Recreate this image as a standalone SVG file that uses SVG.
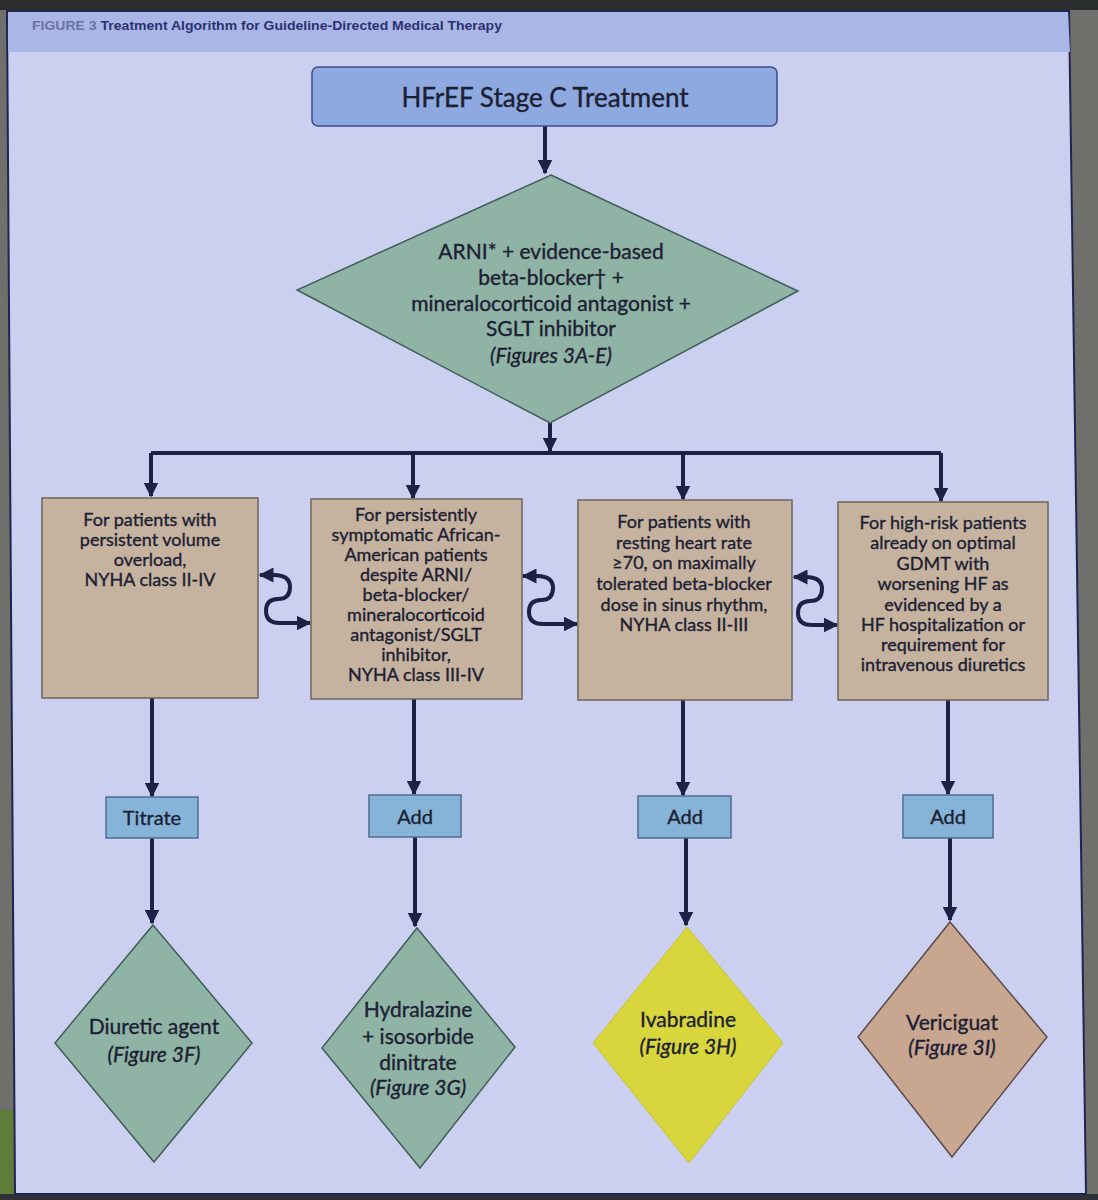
<svg xmlns="http://www.w3.org/2000/svg" width="1098" height="1200" viewBox="0 0 1098 1200">
<defs>
<marker id="ah" viewBox="0 0 10 10" refX="9" refY="5" markerWidth="15" markerHeight="15" markerUnits="userSpaceOnUse" orient="auto-start-reverse">
<path d="M0,0 L10,5 L0,10 z" fill="#1d2148"/>
</marker>
<style>
.t{font-family:Lato,"Open Sans","Liberation Sans",sans-serif;fill:#1c2033;stroke:#1c2033;stroke-width:0.35;text-anchor:middle}
.bx{font-size:18px}
.dm{font-size:21px}
.it{font-style:italic}
.tan{fill:#c6b39f;stroke:#6e6558;stroke-width:1.5}
.grn{fill:#8fb3a4;stroke:#3f5e58;stroke-width:1.5}
.sb{fill:#86b4d8;stroke:#4d6d8e;stroke-width:1.5}
.ln{fill:none;stroke:#1d2148;stroke-width:4}
</style>
</defs>
<rect x="0" y="0" width="1098" height="1200" fill="#6f706b"/>
<rect x="0" y="0" width="1098" height="10" fill="#2b2c2e"/>
<rect x="0" y="1110" width="15" height="90" fill="#5e7d3a"/>
<rect x="0" y="1194" width="1098" height="6" fill="#2f3136"/>
<polygon points="7,11 1069,11 1086,1194 15,1194" fill="#ccd0f0" stroke="#1f2550" stroke-width="2"/>
<polygon points="8,12 1068,12 1070,52 8,52" fill="#aab7e6"/>
<text x="32" y="30" font-family="'Liberation Sans',Arial,sans-serif" font-size="13" font-weight="bold" fill="#2a3172" textLength="470" lengthAdjust="spacingAndGlyphs"><tspan fill="#6a70a8">FIGURE 3</tspan>  Treatment Algorithm for Guideline-Directed Medical Therapy</text>

<g id="connectors">
<path class="ln" d="M545 126 V173" marker-end="url(#ah)"/>
<path class="ln" d="M550 423 V451" marker-end="url(#ah)"/>
<path class="ln" d="M151 453 H941"/>
<path class="ln" d="M151 453 V496" marker-end="url(#ah)"/>
<path class="ln" d="M413 453 V498" marker-end="url(#ah)"/>
<path class="ln" d="M683 453 V499" marker-end="url(#ah)"/>
<path class="ln" d="M941 453 V501" marker-end="url(#ah)"/>
<path class="ln" d="M152 698 V796" marker-end="url(#ah)"/>
<path class="ln" d="M414 699 V794" marker-end="url(#ah)"/>
<path class="ln" d="M683 700 V795" marker-end="url(#ah)"/>
<path class="ln" d="M948 700 V794" marker-end="url(#ah)"/>
<path class="ln" d="M152 838 V923" marker-end="url(#ah)"/>
<path class="ln" d="M415 837 V926" marker-end="url(#ah)"/>
<path class="ln" d="M686 838 V925" marker-end="url(#ah)"/>
<path class="ln" d="M950 838 V920" marker-end="url(#ah)"/>
<path class="ln" d="M260 575 H274 Q290 575 290 587 Q290 599 278 599 Q266 599 266 611 Q266 623 280 623 H310" marker-start="url(#ah)" marker-end="url(#ah)"/>
<path class="ln" d="M523 576 H537 Q553 576 553 588 Q553 600 541 600 Q529 600 529 612 Q529 624 543 624 H577" marker-start="url(#ah)" marker-end="url(#ah)"/>
<path class="ln" d="M794 577 H806 Q822 577 822 589 Q822 601 810 601 Q798 601 798 613 Q798 625 812 625 H837" marker-start="url(#ah)" marker-end="url(#ah)"/>
</g>

<g id="n-start">
<rect x="312" y="67" width="465" height="59" rx="6" fill="#8ea8e0" stroke="#3c4a8e" stroke-width="1.5"/>
<text class="t" x="545" y="107" font-size="26">HFrEF Stage C Treatment</text>
</g>

<g id="n-gdmt">
<polygon class="grn" points="551,175 798,291 550,423 297,290"/>
<text class="t dm" x="551" y="259">ARNI* + evidence-based</text>
<text class="t dm" x="551" y="285">beta-blocker† +</text>
<text class="t dm" x="551" y="311">mineralocorticoid antagonist +</text>
<text class="t dm" x="551" y="336">SGLT inhibitor</text>
<text class="t dm it" x="551" y="363">(Figures 3A-E)</text>
</g>

<g id="n-box1">
<rect class="tan" x="42" y="498" width="216" height="200"/>
<text class="t bx" x="150" y="526">For patients with</text>
<text class="t bx" x="150" y="546">persistent volume</text>
<text class="t bx" x="150" y="566">overload,</text>
<text class="t bx" x="150" y="586">NYHA class II-IV</text>
</g>

<g id="n-box2">
<rect class="tan" x="311" y="499" width="211" height="200"/>
<text class="t bx" x="416" y="521">For persistently</text>
<text class="t bx" x="416" y="541">symptomatic African-</text>
<text class="t bx" x="416" y="561">American patients</text>
<text class="t bx" x="416" y="581">despite ARNI/</text>
<text class="t bx" x="416" y="601">beta-blocker/</text>
<text class="t bx" x="416" y="621">mineralocorticoid</text>
<text class="t bx" x="416" y="641">antagonist/SGLT</text>
<text class="t bx" x="416" y="661">inhibitor,</text>
<text class="t bx" x="416" y="681">NYHA class III-IV</text>
</g>

<g id="n-box3">
<rect class="tan" x="578" y="500" width="214" height="200"/>
<text class="t bx" x="684" y="528">For patients with</text>
<text class="t bx" x="684" y="549">resting heart rate</text>
<text class="t bx" x="684" y="569">≥70, on maximally</text>
<text class="t bx" x="684" y="590">tolerated beta-blocker</text>
<text class="t bx" x="684" y="611">dose in sinus rhythm,</text>
<text class="t bx" x="684" y="631">NYHA class II-III</text>
</g>

<g id="n-box4">
<rect class="tan" x="838" y="502" width="210" height="198"/>
<text class="t bx" x="943" y="529">For high-risk patients</text>
<text class="t bx" x="943" y="549">already on optimal</text>
<text class="t bx" x="943" y="570">GDMT with</text>
<text class="t bx" x="943" y="590">worsening HF as</text>
<text class="t bx" x="943" y="611">evidenced by a</text>
<text class="t bx" x="943" y="631">HF hospitalization or</text>
<text class="t bx" x="943" y="651">requirement for</text>
<text class="t bx" x="943" y="671">intravenous diuretics</text>
</g>

<g id="n-titrate">
<rect class="sb" x="106" y="797" width="92" height="41"/>
<text class="t" x="152" y="825" font-size="20">Titrate</text>
</g>
<g id="n-add2">
<rect class="sb" x="369" y="795" width="92" height="42"/>
<text class="t" x="415" y="824" font-size="20">Add</text>
</g>
<g id="n-add3">
<rect class="sb" x="638" y="796" width="93" height="42"/>
<text class="t" x="685" y="824" font-size="20">Add</text>
</g>
<g id="n-add4">
<rect class="sb" x="903" y="795" width="90" height="43"/>
<text class="t" x="948" y="824" font-size="20">Add</text>
</g>

<g id="n-diuretic">
<polygon class="grn" points="153,925 252,1043 154,1162 55,1043"/>
<text class="t dm" x="154" y="1034">Diuretic agent</text>
<text class="t dm it" x="154" y="1062">(Figure 3F)</text>
</g>
<g id="n-hydralazine">
<polygon class="grn" points="417,928 515,1047 420,1168 322,1048"/>
<text class="t dm" x="418" y="1017">Hydralazine</text>
<text class="t dm" x="418" y="1044">+ isosorbide</text>
<text class="t dm" x="418" y="1070">dinitrate</text>
<text class="t dm it" x="418" y="1095">(Figure 3G)</text>
</g>
<g id="n-ivabradine">
<polygon points="687,927 783,1043 689,1163 593,1043" fill="#d8d63c" stroke="#c8c530" stroke-width="1"/>
<text class="t dm" x="688" y="1027">Ivabradine</text>
<text class="t dm it" x="688" y="1054">(Figure 3H)</text>
</g>
<g id="n-vericiguat">
<polygon points="950,922 1047,1037 952,1157 858,1037" fill="#c9a690" stroke="#5a4a48" stroke-width="1.5"/>
<text class="t dm" x="952" y="1030">Vericiguat</text>
<text class="t dm it" x="952" y="1055">(Figure 3I)</text>
</g>
</svg>
